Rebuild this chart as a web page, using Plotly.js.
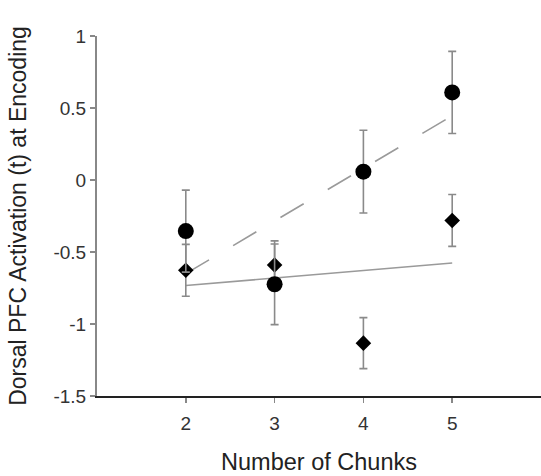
<!DOCTYPE html>
<html>
<head>
<meta charset="utf-8">
<script src="https://cdn.plot.ly/plotly-3.0.1.min.js"></script>
<style>html,body{margin:0;padding:0;background:#fff;}#chart{width:541px;height:476px;}</style>
</head>
<body>
<div id="chart"></div>
<script>
// Number of chunks
var chunks = [2, 3, 4, 5];
// Circle series (dashed fit)
var circleY = [-0.355, -0.724, 0.058, 0.608];
var circleErr = [0.285, 0.28, 0.287, 0.285];
// Diamond series (solid fit)
var diamondY = [-0.627, -0.59, -1.133, -0.281];
var diamondErr = [0.18, 0.167, 0.177, 0.18];
// Fitted lines (end points)
var fitX = [2, 5];
var circleFitY = [-0.65, 0.446];
var diamondFitY = [-0.733, -0.576];
// Axis ticks
var xTicks = [2, 3, 4, 5];
var yTicks = [-1.5, -1, -0.5, 0, 0.5, 1];
var yTickText = ['-1.5', '-1', '-0.5', '0', '0.5', '1'];

var traces = [
  {x: fitX, y: circleFitY, mode: 'lines', line: {color: '#9a9a9a', width: 1.6, dash: '27px,28px'}, hoverinfo: 'skip'},
  {x: fitX, y: diamondFitY, mode: 'lines', line: {color: '#9a9a9a', width: 1.6}, hoverinfo: 'skip'},
  {x: chunks, y: diamondY, mode: 'markers',
   marker: {symbol: 'diamond', size: 12, color: '#000'},
   error_y: {type: 'data', array: diamondErr, visible: true, color: '#8a8a8a', thickness: 1.6, width: 4}},
  {x: chunks, y: circleY, mode: 'markers',
   marker: {symbol: 'circle', size: 16, color: '#000'},
   error_y: {type: 'data', array: circleErr, visible: true, color: '#8a8a8a', thickness: 1.6, width: 4}}
];

var layout = {
  width: 541, height: 476,
  margin: {l: 97, r: 0, t: 36, b: 80},
  showlegend: false,
  paper_bgcolor: '#fff', plot_bgcolor: '#fff',
  font: {family: 'Liberation Sans, Arial, sans-serif', color: '#333'},
  xaxis: {
    range: [1, 6], tickvals: xTicks, ticktext: xTicks.map(String),
    showgrid: false, zeroline: false, showline: true, linecolor: '#222', linewidth: 1.5,
    ticks: 'outside', ticklen: 5, tickcolor: '#888', tickwidth: 1.5,
    tickfont: {size: 19, color: '#333'}, ticklabelstandoff: 5,
    title: {text: 'Number of Chunks', font: {size: 23.5, color: '#222'}, standoff: 20}
  },
  yaxis: {
    range: [-1.5, 1], tickvals: yTicks, ticktext: yTickText,
    showgrid: false, zeroline: false, showline: true, linecolor: '#888', linewidth: 2,
    ticks: 'outside', ticklen: 5, tickcolor: '#888', tickwidth: 1.5,
    tickfont: {size: 19, color: '#333'},
    title: {text: 'Dorsal PFC Activation (t) at Encoding', font: {size: 23, color: '#222'}, standoff: 20}
  }
};

Plotly.newPlot('chart', traces, layout, {displayModeBar: false, staticPlot: true});
</script>
</body>
</html>
